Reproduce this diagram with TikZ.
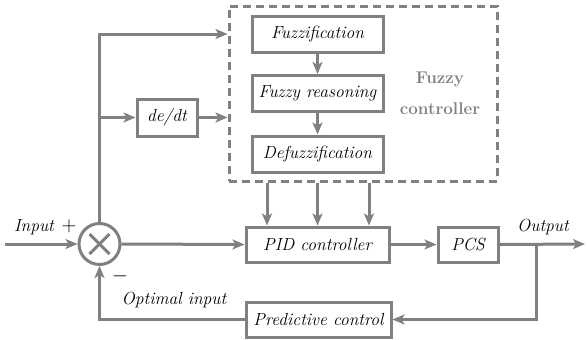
\documentclass[tikz,border=0pt]{standalone}
\usetikzlibrary{arrows.meta,calc}
\definecolor{linegray}{RGB}{128,128,128}
\begin{document}
\begin{tikzpicture}[x=1pt,y=-1pt,
  font=\fontsize{17.5}{20}\selectfont\itshape,
  color=linegray, line width=3pt,
  arr/.style={-{Stealth[length=12pt,width=10pt,inset=3pt]}},
  blk/.style={draw=linegray, rectangle, inner sep=0pt, minimum height=36pt, text=black},
  lbl/.style={text=black, inner sep=0pt},
  ttl/.style={text=linegray, inner sep=0pt, font=\fontsize{17}{20}\selectfont\bfseries}]
\useasboundingbox (0,0) rectangle (587,340);

% fuzzy controller group
\node[draw=linegray, dash pattern=on 8pt off 5pt, minimum width=268pt, minimum height=175pt, inner sep=0pt] (fc) at (363,93.5) {};
\node[blk, minimum width=131pt] (fuzz) at (317.5,34) {Fuzzification};
\node[blk, minimum width=131pt] (reason) at (317.5,93.5) {Fuzzy reasoning};
\node[blk, minimum width=131pt] (defuzz) at (317.5,154) {Defuzzification};
\node[ttl] (t1) at (440,79) {Fuzzy};
\node[ttl] (t2) at (440,109) {controller};

% main loop blocks
\node[blk, minimum width=60pt, minimum height=37pt] (ded) at (167,117.5) {de/dt};
\node[blk, minimum width=143pt, minimum height=35pt] (pid) at (317.5,244.5) {PID controller};
\node[blk, minimum width=60pt, minimum height=35pt] (pcs) at (468,244.5) {PCS};
\node[blk, minimum width=145pt, minimum height=35pt] (pred) at (318.5,319.5) {Predictive control};
\node[draw=linegray, circle, minimum size=41pt, inner sep=0pt] (sum) at (99.5,244) {};
\draw (sum.center) +(-10,-10) -- +(10,10);
\draw (sum.center) +(-10,10) -- +(10,-10);

% labels
\node[lbl] (lin) at (34,227) {Input};
\node[lbl, font=\fontsize{20}{20}\selectfont] (lplus) at (69,226) {$+$};
\node[lbl, font=\fontsize{20}{20}\selectfont] (lminus) at (120,276) {$-$};
\node[lbl] (lout) at (543,227) {Output};
\node[lbl] (lopt) at (174,300) {Optimal input};

% coordinates
\coordinate (in) at (5,244);
\coordinate (out) at (585,244);
\coordinate (tap) at (536,244);

% connectors
\draw[arr] (in) -- (sum.west);
\draw[arr] (sum.east) -- (pid.west);
\draw[arr] (sum.north) |- (fc.west |- fuzz.center);
\draw[arr] (sum.north |- ded.west) -- (ded.west);
\draw[arr] (ded.east) -- (fc.west |- ded.east);
\draw[arr] (fuzz.south) -- (reason.north);
\draw[arr] (reason.south) -- (defuzz.north);
\foreach \dx in {-50.5,0,51.5}
  \draw[arr] ($(fc.south -| pid.north)+(\dx,0)$) -- ($(pid.north)+(\dx,0)$);
\draw[arr] (pid.east) -- (pcs.west);
\draw[arr] (pcs.east) -- (out);
\draw[arr] (tap) |- (pred.east);
\draw[arr] (pred.west) -| (sum.south);
\end{tikzpicture}
\end{document}
